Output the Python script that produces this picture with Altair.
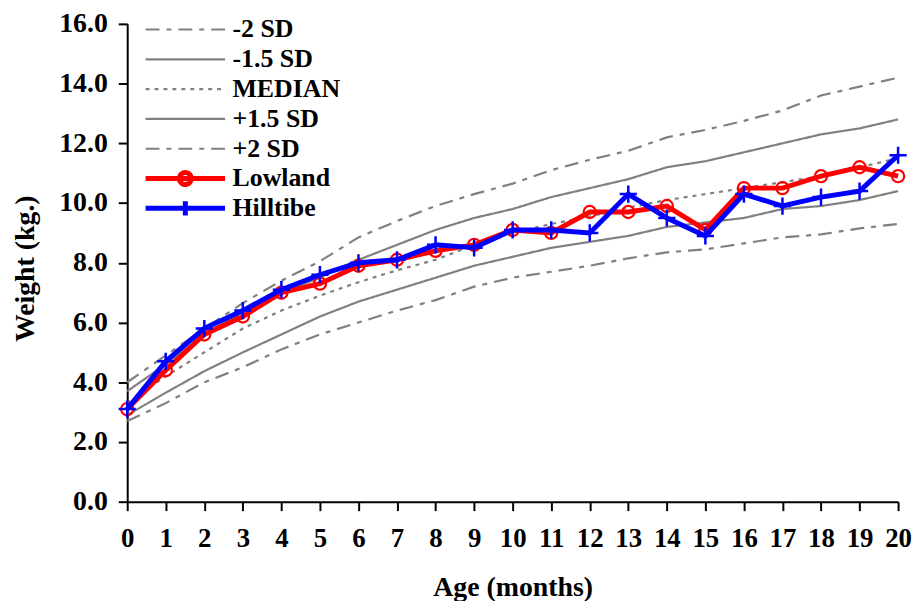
import altair as alt
import pandas as pd

# ---- data ----
months = list(range(21))
minus2 = [2.7, 3.3, 4.0, 4.5, 5.1, 5.6, 6.0, 6.4, 6.75, 7.2, 7.5, 7.7, 7.9, 8.15, 8.35, 8.45, 8.65, 8.85, 8.95, 9.15, 9.3]
minus15 = [2.9, 3.65, 4.37, 5.0, 5.6, 6.2, 6.7, 7.1, 7.5, 7.9, 8.2, 8.5, 8.7, 8.9, 9.2, 9.35, 9.5, 9.8, 9.9, 10.1, 10.4]
median = [3.3, 4.2, 5.0, 5.8, 6.4, 6.9, 7.35, 7.75, 8.1, 8.6, 9.0, 9.3, 9.55, 9.85, 10.1, 10.3, 10.5, 10.7, 10.9, 11.2, 11.5]
plus15 = [3.7, 4.6, 5.6, 6.35, 7.0, 7.5, 8.1, 8.6, 9.1, 9.5, 9.8, 10.2, 10.5, 10.8, 11.2, 11.4, 11.7, 12.0, 12.3, 12.5, 12.8]
plus2 = [4.0, 4.9, 5.8, 6.65, 7.4, 8.05, 8.85, 9.4, 9.9, 10.3, 10.65, 11.1, 11.45, 11.75, 12.2, 12.45, 12.75, 13.1, 13.6, 13.9, 14.2]
lowland = [3.1, 4.4, 5.6, 6.2, 7.0, 7.3, 7.9, 8.1, 8.4, 8.6, 9.1, 9.0, 9.7, 9.7, 9.9, 9.1, 10.5, 10.5, 10.9, 11.2, 10.9]
hilltibe = [3.1, 4.7, 5.8, 6.4, 7.1, 7.6, 8.0, 8.1, 8.6, 8.5, 9.1, 9.1, 9.0, 10.3, 9.5, 8.9, 10.3, 9.9, 10.2, 10.4, 11.6]

series_names = ["-2 SD", "-1.5 SD", "MEDIAN", "+1.5 SD", "+2 SD", "Lowland", "Hilltibe"]
series_values = [minus2, minus15, median, plus15, plus2, lowland, hilltibe]
y_ticks = [0, 2, 4, 6, 8, 10, 12, 14, 16]

# ---- styles ----
GRAY, RED, BLUE = "#808080", "#FF0000", "#0000FF"
colors = [GRAY, GRAY, GRAY, GRAY, GRAY, RED, BLUE]
dashes = [[14, 7, 5, 7], [1, 0], [4, 5], [1, 0], [14, 7, 5, 7], [1, 0], [1, 0]]
widths = [2.2, 2.2, 2.2, 2.2, 2.2, 5, 5]
LINE = "M-1,0L1,0"
LOW_SYM = "M-1,0L1,0M0.15,0A0.15,0.15,0,1,1,-0.15,0A0.15,0.15,0,1,1,0.15,0"
HILL_SYM = "M-1,0L1,0M0,-0.18L0,0.18"
legend_shapes = [LINE, LINE, LINE, LINE, LINE, LOW_SYM, HILL_SYM]
PLUS = "M-1,0L1,0M0,-1L0,1"
FONT = "Liberation Serif"

rows = []
for name, vals in zip(series_names, series_values):
    for m, v in zip(months, vals):
        rows.append({"month": m, "weight": v, "series": name})
df = pd.DataFrame(rows)

color_scale = alt.Scale(domain=series_names, range=colors)
dash_scale = alt.Scale(domain=series_names, range=dashes)
width_scale = alt.Scale(type="ordinal", domain=series_names, range=widths)
shape_scale = alt.Scale(domain=series_names, range=legend_shapes)

x_enc = alt.X("month:Q", scale=alt.Scale(domain=[0, 20], nice=False),
              axis=alt.Axis(values=months, format="d", title="Age (months)",
                            labelOverlap=False, labelFlush=False,
                            titleY=94, titleBaseline="alphabetic",
                            labelFontSize=27, titleFontSize=28, labelPadding=15))
y_enc = alt.Y("weight:Q", scale=alt.Scale(domain=[0, 16], nice=False),
              axis=alt.Axis(values=y_ticks, format=".1f", title="Weight (kg.)",
                            labelOverlap=False, labelFlush=False,
                            titleX=-94, titleY=246, titleBaseline="alphabetic",
                            labelFontSize=28, titleFontSize=28, labelPadding=11))

leg = alt.Legend(title=None)
base = alt.Chart(df)

ref = base.transform_filter(
    alt.FieldOneOfPredicate(field="series", oneOf=series_names[:5])
).mark_line(strokeWidth=2.2).encode(
    x=x_enc, y=y_enc,
    color=alt.Color("series:N", scale=color_scale, legend=leg),
    strokeDash=alt.StrokeDash("series:N", scale=dash_scale, legend=leg),
)

low_line = base.transform_filter(alt.datum.series == "Lowland").mark_line(
    color=RED, strokeWidth=5).encode(x=x_enc, y=y_enc)
low_pts = base.transform_filter(alt.datum.series == "Lowland").mark_point(
    shape="circle", filled=False, color=RED, size=150, strokeWidth=2.2, opacity=1
).encode(x=x_enc, y=y_enc)
hill_line = base.transform_filter(alt.datum.series == "Hilltibe").mark_line(
    color=BLUE, strokeWidth=5).encode(x=x_enc, y=y_enc)
hill_pts = base.transform_filter(alt.datum.series == "Hilltibe").mark_point(
    shape=PLUS, filled=False, color=BLUE, size=300, strokeWidth=2.5, opacity=1
).encode(x=x_enc, y=y_enc)

legend_layer = base.transform_filter("false").mark_point(filled=False, opacity=1).encode(
    x=x_enc, y=y_enc,
    color=alt.Color("series:N", scale=color_scale, legend=leg),
    shape=alt.Shape("series:N", scale=shape_scale, legend=leg),
    strokeDash=alt.StrokeDash("series:N", scale=dash_scale, legend=leg),
    strokeWidth=alt.StrokeWidth("series:N", scale=width_scale, legend=leg),
)

chart = alt.layer(ref, low_line, low_pts, hill_line, hill_pts, legend_layer).properties(
    width=776, height=481,
    autosize=alt.AutoSizeParams(type="none"),
    padding={"left": 120, "top": 14, "right": 14, "bottom": 98},
).configure_view(strokeWidth=0).configure_axis(
    grid=False,
    labelFont=FONT, labelFontWeight="bold", labelColor="black",
    titleFont=FONT, titleFontWeight="bold", titleColor="black",
    domainColor="black", domainWidth=2,
    tickColor="black", tickWidth=2, tickSize=9,
).configure_legend(
    orient="none", legendX=16, legendY=-9,
    labelFont=FONT, labelFontSize=26, labelFontWeight="bold", labelColor="black",
    symbolSize=6400, clipHeight=29.4, rowPadding=0, labelOffset=5, padding=0,
)

chart.save("out.html", embed_options={"renderer": "svg", "actions": False})
